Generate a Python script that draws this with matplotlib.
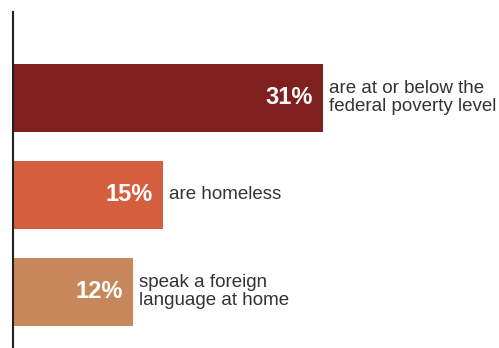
import matplotlib.pyplot as plt

plt.rcParams['font.family'] = ['Liberation Sans', 'DejaVu Sans']

valores = [31, 15, 12]
rotulos = ['31%', '15%', '12%']
descricoes = ['are at or below the\nfederal poverty level',
              'are homeless',
              'speak a foreign\nlanguage at home']
cores = ['#7f1f1e', '#d35f3e', '#c8875a']

fig = plt.figure(figsize=(4.99, 3.48), dpi=100)
ax = fig.add_axes([13 / 499, 0, 486 / 499, 1 - 12 / 348])

posicoes = list(range(len(valores)))
ax.barh(posicoes, valores, height=0.7, color=cores, edgecolor='none')

# rótulos: percentual dentro da barra, descrição à direita
for y, v, r, d in zip(posicoes, valores, rotulos, descricoes):
    ax.annotate(r, xy=(v, y), xytext=(-10, 0), textcoords='offset pixels',
                ha='right', va='center', color='white', fontsize=17,
                fontweight='bold')
    ax.annotate(d, xy=(v, y), xytext=(6, 0), textcoords='offset pixels',
                ha='left', va='center', color='#333333', fontsize=13.5,
                linespacing=1.08)

ax.set_xlim(0, 48.6)
ax.set_ylim(2.58, -0.887)
for lado in ['top', 'right', 'bottom']:
    ax.spines[lado].set_visible(False)
ax.spines['left'].set_linewidth(1.5)
ax.spines['left'].set_color('#222222')
ax.set_xticks([])
ax.set_yticks([])

plt.savefig('out.png', dpi=100)
